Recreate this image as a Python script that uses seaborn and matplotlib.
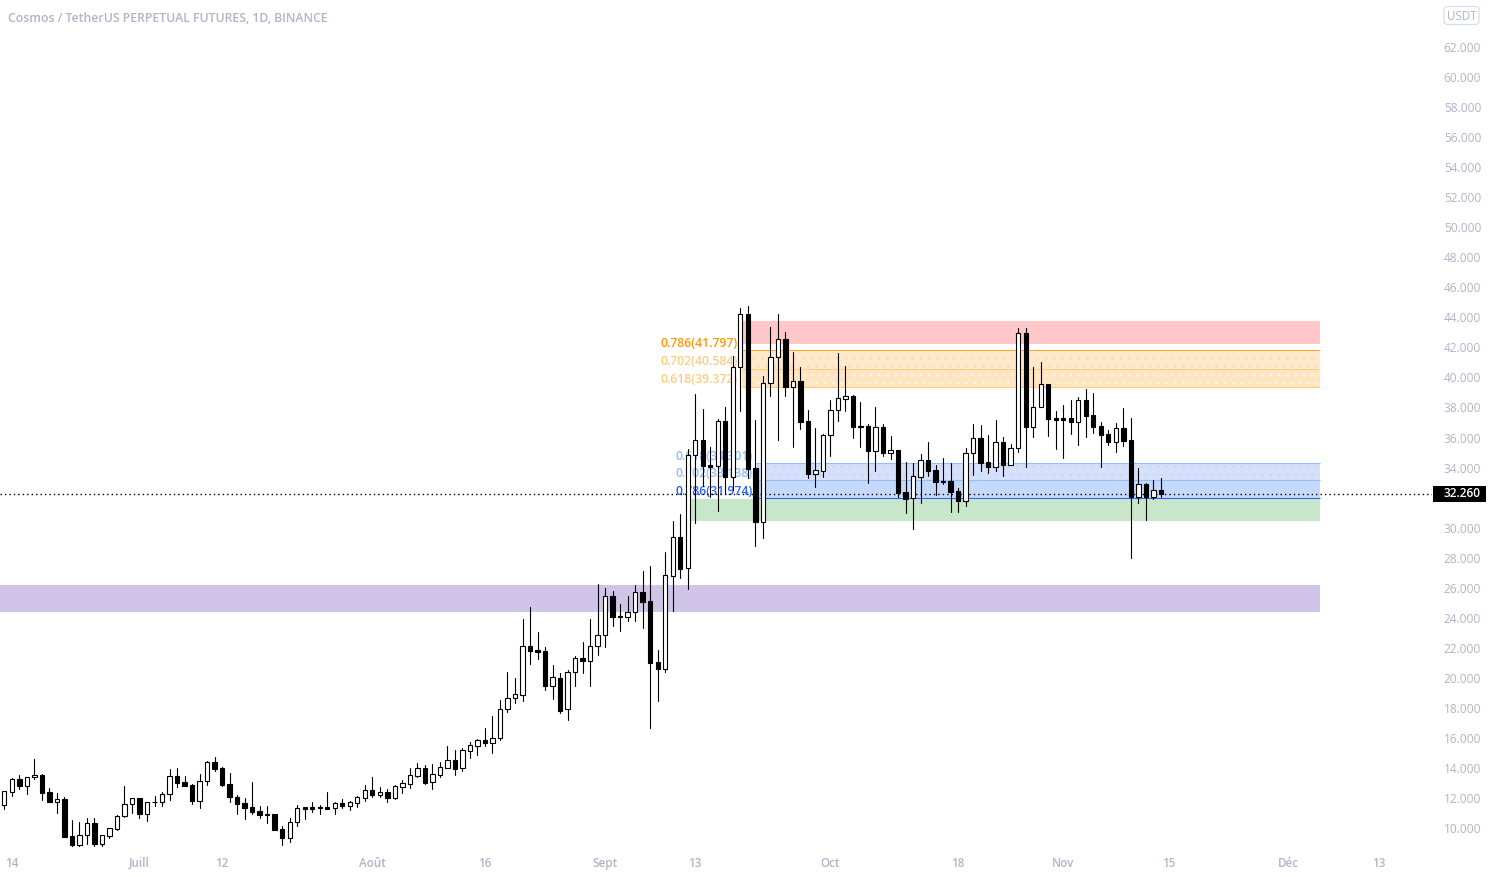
import matplotlib
matplotlib.use("Agg")
import matplotlib.pyplot as plt
from matplotlib.patches import Rectangle, FancyBboxPatch
import numpy as np
import pandas as pd
import seaborn as sns

highs = [12.46,13.35,13.53,13.42,14.59,13.60,12.66,12.33,12.04,10.53,
10.40,10.67,10.67,9.53,10.02,10.87,12.80,11.98,12.00,11.71,
12.11,12.37,13.93,13.99,13.46,12.91,13.60,14.46,14.73,14.04,
13.66,12.17,12.00,13.04,11.46,11.46,10.95,10.13,10.64,11.51,
11.42,11.71,11.51,12.40,11.71,11.91,11.80,12.13,12.84,13.40,
12.71,12.57,12.84,13.17,13.99,14.33,14.17,14.26,14.39,15.46,
15.19,15.30,15.70,15.93,16.66,17.46,18.52,20.39,19.99,23.89,
24.71,23.05,22.03,20.83,20.30,20.52,21.43,22.38,23.89,26.25,
25.96,25.76,24.91,25.45,26.18,27.11,27.44,21.85,28.38,30.44,
30.91,35.23,38.89,37.90,35.37,37.21,38.01,41.42,44.60,44.75,
37.16,40.07,43.34,44.22,43.00,41.71,40.67,37.83,36.63,36.21,
38.48,41.62,40.76,38.81,38.36,36.90,38.03,36.90,36.10,35.17,
34.37,34.28,34.90,35.70,34.15,34.63,34.30,32.64,35.28,36.90,
36.83,36.16,37.16,36.03,35.55,43.27,43.27,40.69,41.03,39.56,
37.76,38.16,38.50,38.67,39.23,38.96,37.01,36.48,36.94,37.94,
37.28,33.97,32.97,33.17,33.30]

lows = [11.29,12.15,12.62,12.26,13.28,11.89,11.73,11.02,9.40,8.62,
8.62,8.96,8.82,8.62,9.36,9.87,10.75,11.00,10.69,10.49,
11.49,11.49,11.86,12.75,12.77,11.62,11.35,12.89,13.80,12.77,
11.75,10.95,10.62,10.95,10.69,10.33,9.87,8.89,9.09,10.16,
10.62,11.04,10.95,11.29,10.95,11.35,11.20,11.40,11.82,12.09,
12.09,11.75,11.95,12.35,12.66,13.42,12.95,12.62,13.42,14.02,
13.55,13.82,14.68,14.86,15.48,14.99,15.86,17.75,18.32,18.48,
20.92,21.25,19.19,18.59,17.68,17.19,19.45,20.32,19.45,21.54,
22.05,23.45,23.12,23.80,23.80,23.32,16.66,18.46,20.41,24.47,
26.66,25.93,30.29,32.77,32.02,31.13,32.28,32.50,37.78,33.28,
28.80,29.33,38.76,35.83,38.76,35.39,36.58,33.32,32.72,33.39,
34.77,37.12,37.78,35.99,35.39,32.99,33.79,34.77,34.59,32.06,
30.99,29.93,31.66,33.46,32.19,32.92,31.06,31.06,31.46,33.52,
33.79,33.66,33.79,33.46,34.19,35.05,34.05,36.05,38.00,36.12,
35.25,34.65,36.25,35.52,36.05,36.32,34.05,35.52,35.05,35.45,
28.00,31.66,30.51,31.90,32.04]

opens = [11.51,12.42,13.24,12.82,13.37,13.53,12.40,11.75,11.93,9.45,
8.89,9.51,10.31,8.96,9.49,9.96,10.82,11.58,11.98,10.95,
11.71,11.71,12.24,13.44,13.04,12.84,11.82,13.11,14.37,13.97,
12.91,12.04,11.64,11.38,11.13,10.91,10.91,9.93,9.36,10.38,
11.40,11.38,11.38,11.38,11.31,11.64,11.49,11.69,12.02,12.51,
12.22,12.37,12.02,12.75,12.95,13.48,13.97,13.04,13.55,14.02,
14.51,14.02,15.15,15.48,15.84,15.68,15.97,17.90,18.63,18.88,
22.10,21.85,21.78,19.48,19.96,17.90,20.36,21.30,21.14,22.10,
22.83,25.42,24.11,24.03,24.36,25.69,25.11,21.03,20.61,26.80,
29.35,27.29,34.81,35.83,34.17,34.08,37.10,33.39,40.67,44.20,
33.95,30.35,39.61,41.38,42.54,39.38,39.74,37.08,33.59,33.79,
36.15,37.81,38.58,38.74,36.76,36.74,35.12,36.68,34.99,35.15,
32.35,31.95,33.39,34.48,33.81,33.10,33.08,32.42,31.79,34.95,
35.95,34.35,34.01,35.68,34.19,35.28,42.94,36.72,38.01,39.54,
37.28,37.28,37.28,37.05,38.48,37.48,36.74,36.21,35.72,36.61,
35.81,32.02,32.88,32.02,32.48]

closes = [12.46,13.24,12.82,13.37,13.51,12.35,11.75,11.91,9.42,8.89,
9.51,10.31,8.96,9.51,9.98,10.78,11.58,11.98,10.95,11.71,
11.73,12.24,13.44,13.02,12.82,11.82,13.11,14.37,13.95,12.89,
12.04,11.62,11.35,11.09,10.87,10.87,9.89,9.36,10.38,11.31,
11.29,11.29,11.33,11.29,11.64,11.46,11.71,12.04,12.51,12.22,
12.37,12.02,12.77,12.97,13.51,13.97,13.00,13.57,14.04,14.51,
13.95,15.17,15.50,15.84,15.68,15.97,17.90,18.63,18.90,22.10,
21.81,21.74,19.48,20.03,17.79,20.36,21.30,21.14,22.10,22.83,
25.42,24.07,24.07,24.36,25.69,25.07,21.01,20.61,26.82,29.37,
27.26,34.81,35.81,34.12,34.05,37.10,33.39,40.67,44.20,33.92,
30.35,39.61,41.38,42.54,39.38,39.74,37.05,33.57,33.81,36.15,
37.81,38.61,38.74,36.72,36.70,35.12,36.68,34.99,35.15,32.30,
31.92,33.42,34.48,33.79,33.06,33.04,32.39,31.79,34.95,35.95,
34.32,34.05,35.68,34.19,35.28,42.94,36.72,38.01,39.54,37.25,
37.18,37.18,37.05,38.48,37.45,36.72,36.18,35.72,36.61,35.79,
32.02,32.88,32.02,32.48,32.26]

y_ticks = [10,12,14,16,18,20,22,24,26,28,30,34,36,38,40,42,44,46,48,50,52,54,56,58,60,62]
x_ticks = [1,18,29,49,64,80,92,110,127,141,155,171,183]
x_labels = ["14","Juill","12","Août","16","Sept","13","Oct","18","Nov","15","Déc","13"]
last_price = 32.26

sns.set_theme(style="white")
plt.rcParams["font.family"] = ["Open Sans", "DejaVu Sans"]
plt.rcParams["hatch.linewidth"] = 0.4

W, H = 1490, 877
fig = plt.figure(figsize=(W/100, H/100), dpi=100, facecolor="white")
ax = fig.add_axes([0, 30/H, 1432/W, 847/H])
ax.set_xlim(-0.573, 190.1)
ax.set_ylim(8.735, 65.13)
for s in ax.spines.values():
    s.set_visible(False)
ax.grid(False)

END = 175.2
TXT = "#B2B3C9"

# zones
def band(x0, lo, hi, face, dots=None, z=1.0):
    ax.fill_between([x0, END], lo, hi, facecolor=face, edgecolor=dots if dots else face,
                    hatch=".." if dots else None, linewidth=0, zorder=z)

band(-0.573, 24.38, 26.18, "#D1C4E9")
band(98.2, 42.22, 43.75, "#FFC7C7")
band(91.5, 30.44, 31.90, "#C8E6C9")
band(98.2, 40.584, 41.797, "#FFE8CC", "#FFD9AC")
band(98.2, 39.372, 40.584, "#FFE5C2", "#FFF6E8")
band(100.05, 33.138, 34.301, "#D5E0FB", "#C6D4F8")
band(100.05, 31.974, 33.138, "#C6D9FD")
ax.hlines(41.797, 98.2, END, color="#F7A733", lw=0.75, zorder=1.2)
ax.hlines([40.584, 39.372], 98.2, END, color="#FFCC80", lw=0.75, zorder=1.2)
ax.hlines([34.301, 33.138], 100.05, END, color="#90BFF9", lw=0.75, zorder=1.2)
ax.hlines(31.974, 100.05, END, color="#2962FF", lw=0.75, zorder=1.2)

# fib labels
labels = [("0.786(41.797)", 41.797, "#FF9800", 97.7), ("0.702(40.584)", 40.584, "#FFCC80", 97.7),
          ("0.618(39.372)", 39.372, "#FFCC80", 97.7), ("0.618(34.301)", 34.301, "#90BFF9", 99.7),
          ("0.702(33.138)", 33.138, "#90BFF9", 99.7), ("0.786(31.974)", 31.974, "#2962FF", 99.7)]
for t, v, c, x in labels:
    ax.annotate(t, xy=(x, v), xytext=(0, 5), textcoords="offset points", color=c, fontsize=8.8,
                fontweight="semibold", ha="right", va="center", zorder=1.5)

# last price line
ax.axhline(last_price, color="black", lw=1.0, ls=(0, (1, 2.2)), zorder=2.5)

# candles
days = np.arange(len(closes))
wicks = pd.DataFrame({"day": np.r_[days, days], "price": highs + lows})
sns.lineplot(data=wicks, x="day", y="price", units="day", estimator=None,
             color="black", lw=0.8, ax=ax, zorder=3, legend=False)
o, c = np.array(opens), np.array(closes)
ax.bar(days, np.abs(c - o), bottom=np.minimum(o, c), width=0.58,
       color=np.where(c >= o, "white", "black").tolist(), edgecolor="black", linewidth=0.8, zorder=4)

# axes
ax.set_xlabel("")
ax.set_ylabel("")
ax.yaxis.tick_right()
ax.set_yticks(y_ticks)
ax.set_yticklabels([f"{v:.3f}" for v in y_ticks])
ax.set_xticks(x_ticks)
ax.set_xticklabels(x_labels)
ax.tick_params(axis="y", length=0, pad=8.5, labelsize=8.6, labelcolor=TXT)
ax.tick_params(axis="x", length=0, pad=7.2, labelsize=8.4, labelcolor=TXT)
for l in ax.get_xticklabels():
    l.set_fontweight("semibold")

# last price tag
tr = ax.get_yaxis_transform()
ax.add_patch(Rectangle((1433/1432, last_price - 0.53), 53/1432, 1.06, transform=tr,
                       facecolor="black", edgecolor="none", clip_on=False, zorder=6))
ax.text(1462/1432, last_price, f"{last_price:.3f}", transform=tr, color="white", fontsize=8.6,
        fontweight="semibold", ha="center", va="center", clip_on=False, zorder=7)

# header
fig.text(8/W, 1 - 18/H, "Cosmos / TetherUS PERPETUAL FUTURES, 1D, BINANCE", color=TXT,
         fontsize=8.8, fontweight="semibold", ha="left", va="center")
fig.add_artist(FancyBboxPatch((1444/W, 1 - 24.5/H), 35/W, 18/H, boxstyle="round,pad=0,rounding_size=0.003",
                              transform=fig.transFigure, facecolor="white", edgecolor="#D5DBF0", linewidth=0.8))
fig.text(1461.5/W, 1 - 16/H, "USDT", color=TXT, fontsize=8.4, ha="center", va="center")

fig.savefig("out.png", dpi=100)
